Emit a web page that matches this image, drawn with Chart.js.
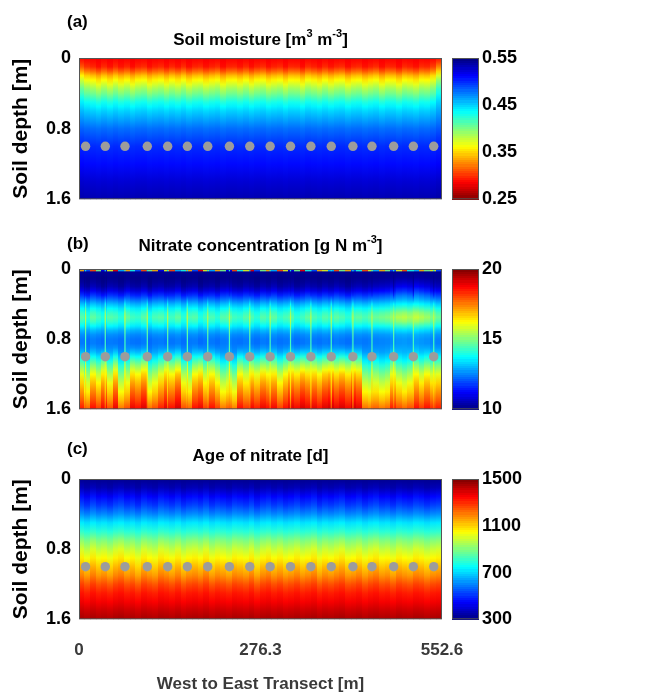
<!DOCTYPE html>
<html lang="en">
<head>
<meta charset="UTF-8">
<title>Soil transect</title>
<script src="https://cdn.jsdelivr.net/npm/chart.js"></script>
<style>
    body { margin: 0; background: #fff; }
    .wrap { position: relative; width: 654px; height: 698px; }
    canvas { position: absolute; left: 0; }
</style>
</head>
<body>
<div class="wrap">
    <canvas id="moisture" width="654" height="220" style="top:0"></canvas>
    <canvas id="nitrate" width="654" height="210" style="top:220px"></canvas>
    <canvas id="age" width="654" height="268" style="top:430px"></canvas>
</div>
<script>
// transect + sensors
const transectLength = 552.6;
const xTicks = [0, 276.3, 552.6];
const depthTicks = [0, 0.8, 1.6];
const sensorX = [10, 40, 70, 104, 135, 165, 196, 229, 260, 291, 322, 353, 384, 417, 446, 479, 509, 540];
const sensorDepth = 1.0;

// (a) soil moisture, m3 m-3
const moistureTicks = [0.25, 0.35, 0.45, 0.55];
const moistureDepths = [0, 0.05, 0.1, 0.15, 0.2, 0.25, 0.3, 0.35, 0.4, 0.45, 0.5, 0.55, 0.6, 0.7, 0.8, 0.9, 1.0, 1.2, 1.4, 1.6];
const moistureProfile = [0.285, 0.29, 0.295, 0.315, 0.34, 0.358, 0.373, 0.388, 0.40, 0.415, 0.43, 0.44, 0.45, 0.465, 0.48, 0.49, 0.50, 0.51, 0.525, 0.535];
const moistureWeight = [0.2, 0.5, 0.9, 1, 1, 1, 1, 1, 0.9, 0.8, 0.6, 0.5, 0.4, 0.3, 0.2, 0.2, 0.1, 0.1, 0.1, 0.1];
const moistureSwing = [0.02, 0.008, 0.004, -0.004, 0.005, -0.003, 0.006, -0.002, 0.004, -0.005, 0.003, 0.006, -0.004, 0.002, 0.005, -0.003,
    0.004, -0.002, 0.006, -0.004, 0.003, 0.005, -0.003, 0.002, 0.006, -0.005, 0.003, 0.004, -0.002, 0.005, -0.004, 0.003,
    0.006, -0.003, 0.002, 0.005, -0.004, 0.004, 0.003, -0.005, 0.006, 0.002, -0.003, 0.005, -0.002, 0.004, 0.006, -0.004,
    0.003, 0.005, -0.003, 0.002, 0.006, -0.004, 0.004, 0.003, -0.005, 0.005, 0.002, -0.003, 0.006, 0.004, 0.012, 0.035];

// (b) nitrate, g N m-3
const nitrateTicks = [10, 15, 20];
const nitrateDepths = [0, 0.015, 0.035, 0.1, 0.15, 0.2, 0.25, 0.3, 0.35, 0.4, 0.45, 0.5, 0.55, 0.6, 0.65, 0.7, 0.75, 0.8, 0.85, 0.9, 0.95, 1.0, 1.05, 1.1, 1.15, 1.2, 1.3, 1.4, 1.5, 1.6];
const nitrateProfile = [14, 14, 10.2, 10.1, 10.2, 10.4, 10.9, 11.6, 12.3, 13.0, 13.6, 14.1, 14.4, 14.1, 13.6, 13.0, 12.6, 12.4, 12.4, 12.6, 13.0, 13.6, 14.2, 14.8, 15.3, 15.8, 16.5, 17.1, 17.7, 18.4];
const nitrateSurfaceWeight = [1, 1, 0, 0, 0, 0, 0, 0, 0, 0, 0, 0, 0, 0, 0, 0, 0, 0, 0, 0, 0, 0, 0, 0, 0, 0, 0, 0, 0, 0];
const nitrateMidWeight = [0, 0, 0, 0.2, 0.4, 0.6, 0.7, 0.7, 0.6, 0.6, 0.7, 0.9, 1, 0.9, 0.6, 0.4, 0.3, 0.3, 0.3, 0.3, 0.2, 0.1, 0, 0, 0, 0, 0, 0, 0, 0];
const nitrateDeepWeight = [0, 0, 0, 0, 0, 0, 0, 0, 0, 0, 0, 0, 0, 0, 0, 0, 0, 0, 0, 0.1, 0.3, 0.5, 0.7, 0.8, 0.9, 1, 1, 1, 0.9, 0.8];
const nitrateSpike = [0, 0, 0, 0, 0, 0, 0, 0, 0.4, 0.8, 1, 1.2, 1.2, 1.4, 1.6, 1.8, 2, 2, 2, 1.9, 1.7, 1.5, 1.2, 1, 0.8, 0.4, 0, -0.4, -0.4, -0.4];
const nitrateSurface = [3, -2, 4, 1, -3, 2, 5, -1, 3, 0, -2, 4, 1, 3, -3, 2, 4, -1, 0, 3, -2, 5, 2, -1, 3, 1, -3, 4, 0, 2, 5, -2,
    1, 3, -1, 4, 2, -3, 1, 5, 0, -2, 3, 2, -1, 4, 1, 3, -2, 0, 4, 2, -1, 3, 1, -2, 2, 4, 0, -1, 3, 1, 2, -2];
const nitrateMid = [0.2, -0.2, 0.3, 0.0, -0.3, 0.2, 0.1, -0.2, 0.3, 0.0, -0.1, 0.2, -0.3, 0.1, 0.2, -0.1,
    0.0, 0.3, -0.2, 0.1, 0.2, -0.3, 0.0, 0.1, -0.2, 0.2, 0.3, 0.0, -0.1, 0.2, 0.1, -0.2,
    0.2, 0.0, 0.3, -0.1, 0.1, 0.2, -0.2, 0.0, 0.3, 0.1, -0.1, 0.2, 0.0, 0.3, 0.1, -0.2,
    0.2, 0.3, 0.1, 0.3, 0.4, 0.5, 0.6, 0.8, 1.1, 1.2, 1.0, 1.3, 1.1, 0.9, 0.6, 0.4];
const nitrateDeep = [0.2, -0.7, 0.4, -0.2, 0.6, -0.4, 0.7, -0.9, -0.4, 0.7, 0.4, 0.9, -0.8, -0.4, 0.2, 0.8,
    0.4, 1.0, -0.4, -0.7, 0.4, 0.7, -0.2, 0.4, -0.2, -0.9, -0.6, -1.0, 0.4, -0.1, 0.6, 0.2,
    0.7, 0.4, 0.6, -0.2, 0.4, 0.9, 0.6, 1.0, 0.7, 0.8, 0.4, 0.9, 1.1, 0.7, 1.0, 0.6,
    1.1, 0.8, -0.8, -1.0, -0.6, -0.9, -0.7, 0.2, -0.4, -0.7, -0.4, 0.4, -0.1, 0.4, 0.0, 0.2];

// (c) age of nitrate, days
const ageTicks = [300, 700, 1100, 1500];
const ageDepths = [0, 0.1, 0.2, 0.3, 0.4, 0.5, 0.6, 0.7, 0.8, 0.9, 1.0, 1.1, 1.2, 1.3, 1.4, 1.5, 1.6];
const ageProfile = [320, 360, 450, 520, 610, 720, 800, 900, 980, 1050, 1120, 1180, 1260, 1320, 1360, 1410, 1450];
const ageWeight = [0, 0.5, 0.8, 0.8, 0.6, 0.5, 0.5, 0.8, 1, 1, 1, 1, 0.8, 0.5, 0.4, 0.3, 0.3];
const ageSwing = [20, -15, 25, -10, 5, -20, 15, 30, -5, 10, -25, 20, 0, -15, 25, 10,
    -10, 20, -20, 5, 15, -5, 25, -15, 10, 0, -20, 15, 5, -10, 20, -25,
    10, 25, -5, 15, -15, 0, 20, -10, 5, 25, -20, 10, -5, 15, 30, -10,
    0, 20, -15, 10, 25, -5, 5, -20, 15, 0, -10, 20, 10, -15, 5, 15];

const FONT = "'Liberation Sans', Arial, sans-serif";

function jet(t) {
    t = Math.min(1, Math.max(0, t));
    const c = k => Math.round(255 * Math.min(1, Math.max(0, 1.5 - Math.abs(4 * t - k))));
    return `rgb(${c(3)},${c(2)},${c(1)})`;
}

const panels = {
    moisture: {
        label: '(a)', labelDy: -36, titleDy: -18,
        title: [['Soil moisture [m', 0], ['3', 1], [' m', 0], ['-3', 1], [']', 0]],
        lo: 0.25, hi: 0.55, ticks: moistureTicks, reverse: true,
        depths: moistureDepths,
        value: (i, k) => moistureProfile[k] + moistureWeight[k] * (moistureSwing[i] || 0),
        padTop: 58, padBottom: 20.7, showX: false
    },
    nitrate: {
        label: '(b)', labelDy: -25, titleDy: -23,
        title: [['Nitrate concentration [g N m', 0], ['-3', 1], [']', 0]],
        lo: 10, hi: 20, ticks: nitrateTicks, reverse: false,
        depths: nitrateDepths,
        value: (i, k) => nitrateProfile[k] + nitrateSurfaceWeight[k] * (nitrateSurface[i] || 0)
            + nitrateMidWeight[k] * (nitrateMid[i] || 0) + nitrateDeepWeight[k] * (nitrateDeep[i] || 0),
        spike: k => nitrateProfile[k] + nitrateSpike[k],
        padTop: 49, padBottom: 20.7, showX: false
    },
    age: {
        label: '(c)', labelDy: -30, titleDy: -23,
        title: [['Age of nitrate [d]', 0]],
        lo: 300, hi: 1500, ticks: ageTicks, reverse: false,
        depths: ageDepths,
        value: (i, k) => ageProfile[k] + ageWeight[k] * (ageSwing[i] || 0),
        padTop: 49, padBottom: 0, showX: true
    }
};

function colorOf(p, v) {
    const t = (v - p.lo) / (p.hi - p.lo);
    return jet(p.reverse ? 1 - t : t);
}

const heatPlugin = {
    id: 'heat',
    beforeDatasetsDraw(chart) {
        const p = panels[chart.canvas.id];
        const { ctx, chartArea: a, scales: { x, y } } = chart;
        const cols = moistureSwing.length;
        const step = transectLength / cols;
        const column = (x0, x1, valAt) => {
            const g = ctx.createLinearGradient(0, a.top, 0, a.bottom);
            p.depths.forEach((d, k) => {
                const off = Math.min(1, Math.max(0, (y.getPixelForValue(d) - a.top) / a.height));
                g.addColorStop(off, colorOf(p, valAt(k)));
            });
            ctx.fillStyle = g;
            ctx.fillRect(x0, a.top, x1 - x0, a.height);
        };
        ctx.save();
        ctx.beginPath();
        ctx.rect(a.left, a.top, a.width, a.height);
        ctx.clip();
        for (let i = 0; i < cols; i++) {
            const x0 = Math.floor(x.getPixelForValue(i * step));
            const x1 = Math.ceil(x.getPixelForValue((i + 1) * step));
            column(x0, x1, k => p.value(i, k));
        }
        if (p.spike) {
            sensorX.forEach(sx => {
                const px = x.getPixelForValue(sx);
                column(px - 0.6, px + 0.6, p.spike);
            });
        }
        ctx.restore();
    },
    afterDraw(chart) {
        const p = panels[chart.canvas.id];
        const { ctx, chartArea: a, scales: { cb } } = chart;
        ctx.save();
        // colour bar
        const bx = cb.left + 10, bw = 27, n = 64;
        for (let k = 0; k < n; k++) {
            const v0 = p.lo + (p.hi - p.lo) * k / n;
            const v1 = p.lo + (p.hi - p.lo) * (k + 1) / n;
            const y0 = cb.getPixelForValue(v1), y1 = cb.getPixelForValue(v0);
            ctx.fillStyle = colorOf(p, (v0 + v1) / 2);
            ctx.fillRect(bx, Math.floor(y0), bw, Math.ceil(y1) - Math.floor(y0));
        }
        ctx.strokeStyle = '#555';
        ctx.lineWidth = 1;
        ctx.strokeRect(bx + 0.5, a.top + 0.5, bw - 1, a.height - 1);
        ctx.strokeRect(a.left + 0.5, a.top + 0.5, a.width - 1, a.height - 1);

        // panel letter
        ctx.fillStyle = '#000';
        ctx.textBaseline = 'middle';
        ctx.textAlign = 'left';
        ctx.font = `bold 17px ${FONT}`;
        ctx.fillText(p.label, 67, a.top + p.labelDy);

        // title with superscripts
        const big = `bold 17px ${FONT}`, small = `bold 11px ${FONT}`;
        let w = 0;
        p.title.forEach(([t, sup]) => { ctx.font = sup ? small : big; w += ctx.measureText(t).width; });
        let tx = (a.left + a.right) / 2 - w / 2;
        const ty = a.top + p.titleDy;
        p.title.forEach(([t, sup]) => {
            ctx.font = sup ? small : big;
            ctx.fillText(t, tx, sup ? ty - 6 : ty);
            tx += ctx.measureText(t).width;
        });
        ctx.restore();
    }
};

// keep tick label overhang out of the layout so the plot boxes stay fixed
function noPad(s) {
    s.paddingTop = 0; s.paddingBottom = 0; s.paddingLeft = 0; s.paddingRight = 0;
}

function buildChart(id) {
    const p = panels[id];
    const tickFont = { family: FONT, size: 18, weight: 'bold' };
    return new Chart(document.getElementById(id), {
        type: 'scatter',
        data: {
            datasets: [{
                data: sensorX.map(x => ({ x, y: sensorDepth })),
                pointRadius: 4.7,
                pointHoverRadius: 4.7,
                pointBackgroundColor: '#9c9c9c',
                pointBorderWidth: 0
            }]
        },
        options: {
            responsive: false,
            animation: false,
            events: [],
            layout: { padding: { top: p.padTop, bottom: p.padBottom, left: 0, right: 0 } },
            plugins: { legend: { display: false }, tooltip: { enabled: false } },
            scales: {
                x: {
                    type: 'linear', min: 0, max: transectLength,
                    display: p.showX,
                    grid: { display: false, drawTicks: false },
                    border: { display: false },
                    afterBuildTicks: s => { s.ticks = xTicks.map(v => ({ value: v })); },
                    ticks: { padding: 21, color: '#3a3a3a', font: { family: FONT, size: 17, weight: 'bold' }, maxRotation: 0, callback: v => String(v) },
                    title: { display: true, text: 'West to East Transect [m]', color: '#3a3a3a', font: { family: FONT, size: 17, weight: 'bold' }, padding: { top: 0, bottom: 3 } },
                    afterFit: s => { s.height = p.showX ? 78.7 : 0; noPad(s); }
                },
                y: {
                    type: 'linear', min: 0, max: 1.6, reverse: true,
                    grid: { display: false, drawTicks: false },
                    border: { display: false },
                    afterBuildTicks: s => { s.ticks = depthTicks.map(v => ({ value: v })); },
                    ticks: { padding: 8, color: '#000', font: tickFont, callback: v => String(v) },
                    title: { display: true, text: 'Soil depth [m]', color: '#000', font: { family: FONT, size: 21, weight: 'bold' }, padding: { top: 9, bottom: 0 } },
                    afterFit: s => { s.width = 79; noPad(s); }
                },
                cb: {
                    type: 'linear', axis: 'y', position: 'right', min: p.lo, max: p.hi,
                    grid: { display: false, drawTicks: false },
                    border: { display: false },
                    afterBuildTicks: s => { s.ticks = p.ticks.map(v => ({ value: v })); },
                    ticks: { padding: 40, color: '#000', font: tickFont, autoSkip: false, callback: v => String(v) },
                    afterFit: s => { s.width = 212; noPad(s); }
                }
            }
        },
        plugins: [heatPlugin]
    });
}

buildChart('moisture');
buildChart('nitrate');
buildChart('age');
</script>
</body>
</html>
